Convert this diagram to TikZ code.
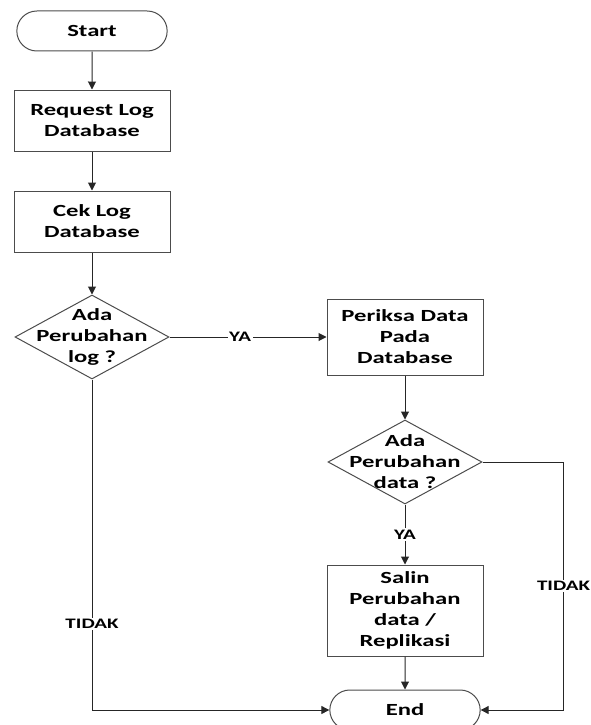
\documentclass[tikz,border=0pt]{standalone}
\usepackage{fontspec}
\setmainfont{Carlito}[FakeStretch=1.45]
\usetikzlibrary{shapes.geometric, shapes.misc, arrows.meta, positioning}
\tikzset{
  term/.style = {rounded rectangle, draw=black!70, line width=1pt, align=center, minimum height=40pt, minimum width=157pt, font=\bfseries\fontsize{17}{21}\selectfont},
  process/.style = {rectangle, draw=black!70, line width=1pt, align=center, minimum width=156pt, font=\bfseries\fontsize{17}{21}\selectfont},
  decision/.style = {diamond, draw=black!70, line width=1pt, inner sep=0pt, minimum width=154pt, minimum height=84pt},
  dtext/.style = {align=center, font=\bfseries\fontsize{17}{21}\selectfont},
  line/.style = {-{Triangle[length=8pt,width=8pt]}, line width=1pt, draw=black!85},
  lbl/.style = {fill=white, inner sep=1.5pt, font=\bfseries\fontsize{14.5}{16}\selectfont}
}

\begin{document}
\begin{tikzpicture}
\useasboundingbox (0,0) rectangle (590pt,-725pt);
\node[term] (start) at (92pt,-31pt) {Start};
\node[process, below=38pt of start, minimum height=61pt] (req) {Request Log\\ Database};
\node[process, below=39pt of req, minimum height=61pt] (cek) {Cek Log\\ Database};
\node[decision, below=42pt of cek, label={[dtext]center:Ada\\ Perubahan\\ log ?}] (ada1) {};
\node[process, right=157pt of ada1, minimum height=76pt] (periksa) {Periksa Data\\ Pada\\ Database};
\node[decision, below=44pt of periksa, label={[dtext]center:Ada\\ Perubahan\\ data ?}] (ada2) {};
\node[process, below=60pt of ada2, minimum height=91pt] (salin) {Salin\\ Perubahan\\ data /\\ Replikasi};
\node[term, below=33pt of salin] (end) {End};

\draw[line] (start) -- (req);
\draw[line] (req) -- (cek);
\draw[line] (cek) -- (ada1);
\draw[line] (ada1) -- node[lbl, pos=0.45] {YA} (periksa);
\draw[line] (periksa) -- (ada2);
\draw[line] (ada2) -- node[lbl] {YA} (salin);
\draw[line] (salin) -- (end);
\draw[line] (ada1.south) |- node[lbl, pos=0.37] {TIDAK} (end.west);
\draw[line] (ada2.east) -- ++(81pt,0) |- node[lbl, pos=0.25] {TIDAK} (end.east);
\end{tikzpicture}
\end{document}
